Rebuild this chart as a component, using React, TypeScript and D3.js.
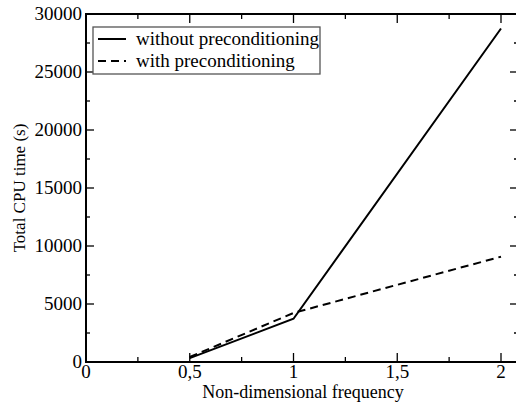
import React from "react";
import * as d3 from "d3";

const freq = [0.5, 1, 2];
const withoutPre = [330, 3730, 28750];
const withPre = [430, 4230, 9080];
const xTicks = [0, 0.5, 1, 1.5, 2];
const xTickLabels = ["0", "0,5", "1", "1,5", "2"];
const yTicks = [0, 5000, 10000, 15000, 20000, 25000, 30000];
const seriesNames = ["without preconditioning", "with preconditioning"];

const W = 516, H = 406;
const L = 86, T = 14, B = 362, R = 523;
const FONT = "'Liberation Serif', 'Times New Roman', serif";

export default function App() {
  const x = d3.scaleLinear().domain([0, 2]).range([L, 501]);
  const y = d3.scaleLinear().domain([0, 30000]).range([B, T]);
  const line = d3.line<[number, number]>().x(d => x(d[0])).y(d => y(d[1]));
  const d1 = line(freq.map((f, i) => [f, withoutPre[i]] as [number, number]))!;
  const d2 = line(freq.map((f, i) => [f, withPre[i]] as [number, number]))!;
  const xMinor = d3.range(0, 2.26, 0.25);
  const yMinor = d3.range(0, 30001, 2500);
  return (
    <svg width={W} height={H} style={{ position: "absolute", left: 0, top: 0, background: "#fff", overflow: "hidden" }} fontFamily={FONT}>
      <rect x={0} y={0} width={W} height={H} fill="#fff" />
      {xMinor.map((v, i) => {
        const major = Math.abs(v * 2 - Math.round(v * 2)) < 1e-6;
        const len = major ? 9 : 5;
        const px = x(v);
        if (px > W) return null;
        return (
          <g key={"xt" + i}>
            <line x1={px} x2={px} y1={B} y2={B - len} stroke="#000" strokeWidth={1.3} />
            <line x1={px} x2={px} y1={T} y2={T + len} stroke="#000" strokeWidth={1.3} />
          </g>
        );
      })}
      {yMinor.map((v, i) => {
        const major = v % 5000 === 0;
        const len = major ? 8 : 4;
        const py = y(v);
        return (
          <g key={"yt" + i}>
            <line x1={L} x2={L + len} y1={py} y2={py} stroke="#000" strokeWidth={1.3} />
            <line x1={518} x2={518 - len} y1={py} y2={py} stroke="#000" strokeWidth={1.3} />
          </g>
        );
      })}
      <path d={`M${R},${B}H${L}V${T}H${R}`} fill="none" stroke="#000" strokeWidth={2} />
      {xTicks.map((v, i) => (
        <text key={"xl" + i} x={x(v)} y={378} textAnchor="middle" fontSize={19}>{xTickLabels[i]}</text>
      ))}
      {yTicks.map((v, i) => (
        <text key={"yl" + i} x={82} y={y(v) + 6} textAnchor="end" fontSize={19}>{String(v)}</text>
      ))}
      <text x={303} y={398} textAnchor="middle" fontSize={18}>Non-dimensional frequency</text>
      <text transform={`translate(25,${(T + B) / 2}) rotate(-90)`} textAnchor="middle" fontSize={17}>Total CPU time (s)</text>
      <path d={d1} fill="none" stroke="#000" strokeWidth={2} />
      <path d={d2} fill="none" stroke="#000" strokeWidth={2} strokeDasharray="8,5" />
      <rect x={93} y={27} width={227} height={47} fill="#fff" stroke="#555" strokeWidth={1.3} />
      <line x1={98} x2={126} y1={39} y2={39} stroke="#000" strokeWidth={2} />
      <line x1={98} x2={126} y1={61} y2={61} stroke="#000" strokeWidth={2} strokeDasharray="8,5" />
      <text x={136} y={45} fontSize={19}>{seriesNames[0]}</text>
      <text x={136} y={67} fontSize={19}>{seriesNames[1]}</text>
    </svg>
  );
}
